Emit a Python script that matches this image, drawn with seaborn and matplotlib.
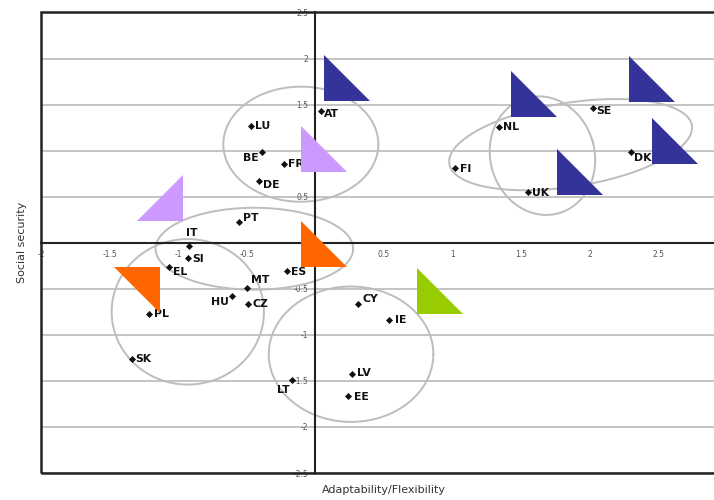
import numpy as np
import pandas as pd
import seaborn as sns
import matplotlib.pyplot as plt
from matplotlib.patches import Rectangle
from matplotlib import font_manager

# country positions
countries = ["AT", "LU", "BE", "FR", "DE", "PT", "IT", "SI", "EL", "ES", "MT", "HU", "CZ",
             "PL", "SK", "LT", "CY", "IE", "LV", "EE", "NL", "SE", "FI", "UK", "DK"]
flexibility = [0.04, -0.47, -0.39, -0.23, -0.41, -0.56, -0.92, -0.93, -1.07, -0.21, -0.50, -0.61, -0.49,
               -1.21, -1.34, -0.17, 0.31, 0.54, 0.27, 0.24, 1.34, 2.02, 1.02, 1.55, 2.30]
security = [1.43, 1.27, 0.99, 0.86, 0.67, 0.22, -0.03, -0.17, -0.26, -0.31, -0.49, -0.58, -0.66,
            -0.77, -1.26, -1.49, -0.66, -0.84, -1.43, -1.66, 1.26, 1.46, 0.81, 0.55, 0.99]

# coloured flag triangles
tri_x = [0.23, 1.59, 2.45, 2.62, 1.93, 0.06, -1.13, 0.06, -1.30, 0.91]
tri_y = [1.79, 1.61, 1.78, 1.11, 0.77, 1.02, 0.49, -0.01, -0.51, -0.52]
tri_colour = ["blue", "blue", "blue", "blue", "blue", "lilac", "lilac", "orange", "orange", "green"]
tri_shape = ["bl", "bl", "bl", "bl", "bl", "bl", "br", "bl", "tr", "bl"]

# cluster ellipses: centre x, centre y, width, height, tilt
ell_cx = [-0.106, -0.445, -0.93, 0.26, 1.86, 1.655]
ell_cy = [1.07, -0.065, -0.75, -1.21, 1.065, 0.946]
ell_w = [1.13, 1.44, 1.11, 1.20, 1.79, 0.76]
ell_h = [1.25, 0.89, 1.58, 1.47, 0.91, 1.30]
ell_tilt = [0, 0, 0, 0, 9, 16]

x_ticks = [-2, -1.5, -1, -0.5, 0.5, 1, 1.5, 2, 2.5]
y_ticks = [-2.5, -2, -1.5, -1, -0.5, 0.5, 1, 1.5, 2, 2.5]

df = pd.DataFrame({"country": countries, "flex": flexibility, "sec": security})
tri = pd.DataFrame({"x": tri_x, "y": tri_y, "colour": tri_colour, "shape": tri_shape})

sns.set_style("white")
names = {f.name for f in font_manager.fontManager.ttflist}
label_font = "Liberation Sans Narrow" if "Liberation Sans Narrow" in names else "DejaVu Sans"
plt.rcParams["font.family"] = ["DejaVu Sans"]

fig = plt.figure(figsize=(7.14, 5), dpi=100)
ax = fig.add_axes([0.0574, 0.054, 0.9608, 0.921])
ax.set_xlim(-2, 3)
ax.set_ylim(-2.5, 2.5)

# screen aspect: how many y units one x unit spans on the page
pos = ax.get_position()
k = (pos.width * 714 / 5) / (pos.height * 500 / 5)

def ellipse_xy(cx, cy, w, h, tilt):
    t = np.linspace(0, 2 * np.pi, 300)
    u = w / 2 * np.cos(t)
    v = h / 2 * np.sin(t) / k
    a = np.deg2rad(tilt)
    xr = u * np.cos(a) - v * np.sin(a)
    yr = u * np.sin(a) + v * np.cos(a)
    return cx + xr, cy + yr * k

for cx, cy, w, h, tilt in zip(ell_cx, ell_cy, ell_w, ell_h, ell_tilt):
    ex, ey = ellipse_xy(cx, cy, w, h, tilt)
    ax.plot(ex, ey, color="#bdbdbd", lw=1.4, zorder=2)

sns.scatterplot(data=df, x="flex", y="sec", marker="D", s=13, color="#111111",
                linewidth=0, ax=ax, zorder=4)

# label offsets in points
offsets = {"AT": (2, -2, "left"), "BE": (-2, -4.5, "right"), "DE": (3, -2.5, "left"),
           "PT": (3, 3, "left"), "IT": (2, 9, "center"), "EL": (3, -3.5, "left"),
           "MT": (3, 6, "left"), "HU": (-2, -4.5, "right"), "LT": (-1.5, -7, "right"),
           "CY": (3, 3, "left"), "IE": (4, 0, "left"), "LV": (3, 1, "left"),
           "SE": (3, -2, "left"), "DK": (2, -4.5, "left"), "EE": (4, -1, "left")}
for c, xv, yv in zip(countries, flexibility, security):
    dx, dy, ha = offsets.get(c, (3, -0.5, "left"))
    ax.annotate(c, (xv, yv), xytext=(dx, dy), textcoords="offset points", ha=ha, va="center",
                fontsize=7.8, fontweight="bold", fontfamily=label_font, color="#111111", zorder=4)

shapes = {"bl": [(-1, 1), (-1, -1), (1, -1)],
          "br": [(1, 1), (1, -1), (-1, -1)],
          "tr": [(-1, 1), (1, 1), (1, -1)]}
colours = {"blue": "#333399", "lilac": "#cc99ff", "orange": "#ff6600", "green": "#99cc00"}
sns.scatterplot(data=tri, x="x", y="y", hue="colour", style="shape", palette=colours,
                markers=shapes, s=1096, linewidth=0, legend=False, ax=ax, zorder=6)

# axes through the origin plus outer frame
for side in ["top", "right"]:
    ax.spines[side].set_visible(False)
ax.spines["left"].set_position(("data", 0))
ax.spines["bottom"].set_position(("data", 0))
for side in ["left", "bottom"]:
    ax.spines[side].set_linewidth(1.5)
    ax.spines[side].set_color("#222222")
    ax.spines[side].set_zorder(3)
ax.add_patch(Rectangle((0, 0), 1, 1, transform=ax.transAxes, fill=False, lw=1.8,
                       ec="#222222", clip_on=False, zorder=3))

ax.set_xticks(x_ticks)
ax.set_yticks(y_ticks)
ax.set_xticklabels([f"{v:g}" for v in x_ticks])
ax.set_yticklabels([f"{v:g}" for v in y_ticks])
ax.tick_params(axis="both", direction="out", length=3, width=1.2, color="#222222",
               labelsize=5.5, labelcolor="#555555", pad=2)
ax.yaxis.grid(True, color="#c4c4c4", lw=1.4)
ax.set_axisbelow(True)

ax.set_xlabel("Adaptability/Flexibility", fontsize=8, color="#333333")
ax.set_ylabel("Social security", fontsize=8, color="#333333")
ax.xaxis.set_label_coords(0.5, -0.026)
ax.yaxis.set_label_coords(-0.021, 0.5)

plt.savefig("out.png", dpi=100)
